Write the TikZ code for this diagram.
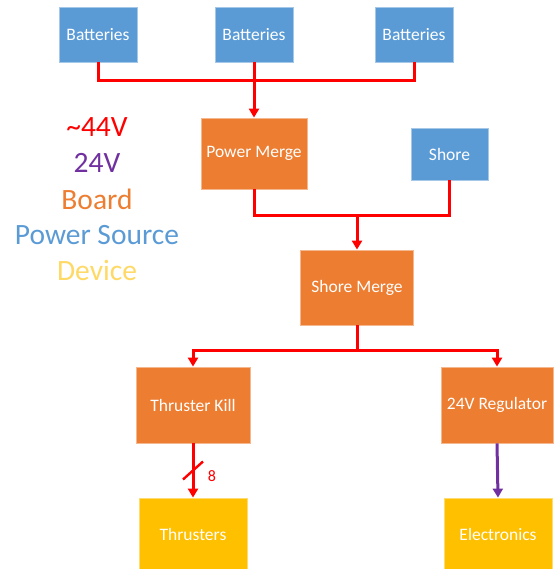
\documentclass[tikz,border=0pt]{standalone}
\usepackage{fontspec}
\setmainfont{Carlito}
\usetikzlibrary{arrows.meta,calc}

\definecolor{srcblue}{HTML}{5B9BD5}
\definecolor{brdorange}{HTML}{ED7D31}
\definecolor{devyellow}{HTML}{FFC000}
\definecolor{devlight}{HTML}{FFD966}
\definecolor{lvpurple}{HTML}{7030A0}

\begin{document}
\begin{tikzpicture}[
        x=1pt,
        y=-1pt,
        >={Triangle[width=10pt,length=9pt]},
        every node/.style={font=\fontsize{17.5}{20}\selectfont, align=center, inner sep=0pt},
        src/.style={fill=srcblue, draw=srcblue!55!white, line width=0.8pt, text=white},
        brd/.style={fill=brdorange, draw=brdorange!55!white, line width=0.8pt, text=white},
        dev/.style={fill=devyellow, draw=devyellow!55!white, line width=0.8pt, text=white},
        hv/.style={draw=red, line width=3pt},
        lv/.style={draw=lvpurple, line width=3pt},
        legend/.style={font=\fontsize{29.5}{34}\selectfont}
    ]
        \useasboundingbox (0,0) rectangle (553,569);

        % legend
        \node[legend, text=red] (lg44) at (97,127) {\textasciitilde44V};
        \node[legend, text=lvpurple] (lg24) at (97,163) {24V};
        \node[legend, text=brdorange] (lgbrd) at (97,199) {Board};
        \node[legend, text=srcblue] (lgsrc) at (97,235) {Power Source};
        \node[legend, text=devlight] (lgdev) at (97,270) {Device};

        % sources
        \node[src, minimum width=78pt, minimum height=55pt] (bat1) at (98,34.5) {Batteries};
        \node[src, minimum width=78pt, minimum height=55pt] (bat2) at (254,34.5) {Batteries};
        \node[src, minimum width=78pt, minimum height=55pt] (bat3) at (414,34.5) {Batteries};
        \node[src, minimum width=77pt, minimum height=52pt] (shore) at (449.5,154) {Shore};

        % boards
        \node[brd, minimum width=106pt, minimum height=71pt] (pmerge) at (254,153.5) {Power Merge};
        \node[brd, minimum width=113pt, minimum height=75pt] (smerge) at (357,287.5) {Shore Merge};
        \node[brd, minimum width=114pt, minimum height=76pt] (tkill) at (193,405) {Thruster Kill};
        \node[brd, minimum width=112pt, minimum height=76pt] (reg) at (497,405) {24V Regulator};

        % devices
        \node[dev, minimum width=108pt, minimum height=72pt] (thr) at (193,534) {Thrusters};
        \node[dev, minimum width=108pt, minimum height=72pt] (elec) at (498,534) {Electronics};

        \coordinate (busb) at (357,215);
        \coordinate (busc) at (357,350);

        \draw[hv] (bat1.south) -- ++(0,18) -| (bat3.south);
        \draw[hv,->] (bat2.south) -- (pmerge.north);
        \draw[hv] (pmerge.south) |- (busb) -| (shore.south);
        \draw[hv,->] (busb) -- (smerge.north);
        \draw[hv] (smerge.south) -- (busc);
        \draw[hv,->] (busc) -| (tkill.north);
        \draw[hv,->] (busc) -| (reg.north);
        \draw[hv,->] (tkill.south) -- coordinate[pos=0.5] (cut) (thr.north);
        \draw[hv, line width=2.4pt] ($(cut)+(-10,9)$) -- ($(cut)+(10,-9)$);
        \node[text=red, font=\fontsize{16}{18}\selectfont] (cnt) at (212,476) {8};
        \draw[lv,->] (reg.south) -- (elec.north);
    \end{tikzpicture}
\end{document}
